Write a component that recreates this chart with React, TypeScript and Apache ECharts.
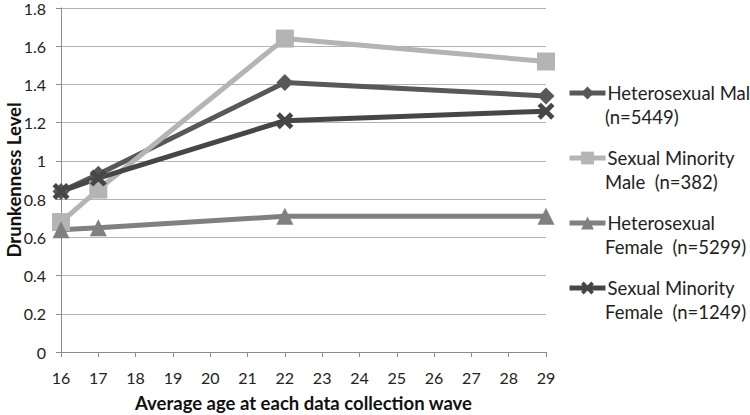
import React, { useEffect, useRef } from "react";
import * as echarts from "echarts";

const ages = [16, 17, 22, 29];
const heteroMale = [0.84, 0.93, 1.41, 1.34];
const minorityMale = [0.68, 0.85, 1.64, 1.52];
const heteroFemale = [0.64, 0.65, 0.71, 0.71];
const minorityFemale = [0.84, 0.91, 1.21, 1.26];

const seriesNames = [
  "Heterosexual Mal",
  "Sexual Minority",
  "Heterosexual",
  "Sexual Minority ",
];
const secondLines = ["(n=5449)", "Male  (n=382)", "Female  (n=5299)", "Female  (n=1249)"];
const colors = ["#585858", "#b4b4b4", "#808080", "#464646"];

const xSymbol =
  "path://M0,2 L2,0 L5,3 L8,0 L10,2 L7,5 L10,8 L8,10 L5,7 L2,10 L0,8 L3,5 Z";

const FONT = "Lato, 'Open Sans', sans-serif";

export default function App() {
  const ref = useRef<HTMLDivElement>(null);
  useEffect(() => {
    if (!ref.current) return;
    const chart = echarts.init(ref.current, undefined, { renderer: "svg" });
    const values = [heteroMale, minorityMale, heteroFemale, minorityFemale];
    const symbols = ["diamond", "rect", "triangle", xSymbol];
    const sizes = [17, 18, 17, 17];
    const legendTop = 81;
    const legendGap = 65;
    const legendFont = 18.5;
    chart.setOption({
      animation: false,
      textStyle: { fontFamily: FONT },
      grid: { left: 61, right: 204, top: 8, bottom: 63, outerBoundsMode: "none" },
      xAxis: {
        type: "value",
        min: 16,
        max: 29,
        interval: 1,
        name: "Average age at each data collection wave",
        nameLocation: "middle",
        nameGap: 41,
        nameMoveOverlap: false,
        nameTextStyle: { fontFamily: FONT, fontSize: 18.5, fontWeight: "bold", color: "#111" },
        axisLine: { show: true, lineStyle: { color: "#8c8c8c", width: 1 } },
        axisTick: { show: true, length: 5, lineStyle: { color: "#8c8c8c" } },
        axisLabel: { fontFamily: FONT, fontSize: 16, color: "#222", margin: 17 },
        splitLine: { show: false },
      },
      yAxis: {
        type: "value",
        min: 0,
        max: 1.8,
        interval: 0.2,
        name: "Drunkenness Level",
        nameLocation: "middle",
        nameGap: 38,
        nameMoveOverlap: false,
        nameTextStyle: { fontFamily: FONT, fontSize: 18.5, fontWeight: "bold", color: "#111" },
        axisLine: { show: true, lineStyle: { color: "#8c8c8c", width: 1 } },
        axisTick: { show: true, length: 5, lineStyle: { color: "#8c8c8c" } },
        axisLabel: { fontFamily: FONT, fontSize: 16, color: "#222", margin: 15 },
        splitLine: { show: true, lineStyle: { color: "#b3b3b3", width: 1 } },
      },
      legend: {
        orient: "vertical",
        left: 567,
        top: legendTop,
        padding: 0,
        itemWidth: 36,
        itemHeight: 16,
        itemGap: legendGap - 24,
        data: seriesNames,
        lineStyle: { width: 5 },
        textStyle: { fontFamily: FONT, fontSize: legendFont, color: "#222", lineHeight: 24, padding: [0, 0, 0, -3] },
      },
      graphic: secondLines.map((t, i) => ({
        type: "text",
        left: 605,
        top: legendTop + i * legendGap + 24,
        style: { text: t, fontFamily: FONT, fontSize: legendFont, fill: "#222", lineHeight: 24 },
      })),
      series: seriesNames.map((name, i) => ({
        name,
        type: "line",
        data: ages.map((a, j) => [a, values[i][j]]),
        symbol: symbols[i],
        symbolSize: sizes[i],
        lineStyle: { color: colors[i], width: 5 },
        itemStyle: { color: colors[i] },
      })),
    });
    return () => chart.dispose();
  }, []);
  return <div ref={ref} style={{ width: 750, height: 415, position: "absolute", left: 0, top: 0, background: "#fff" }} />;
}
